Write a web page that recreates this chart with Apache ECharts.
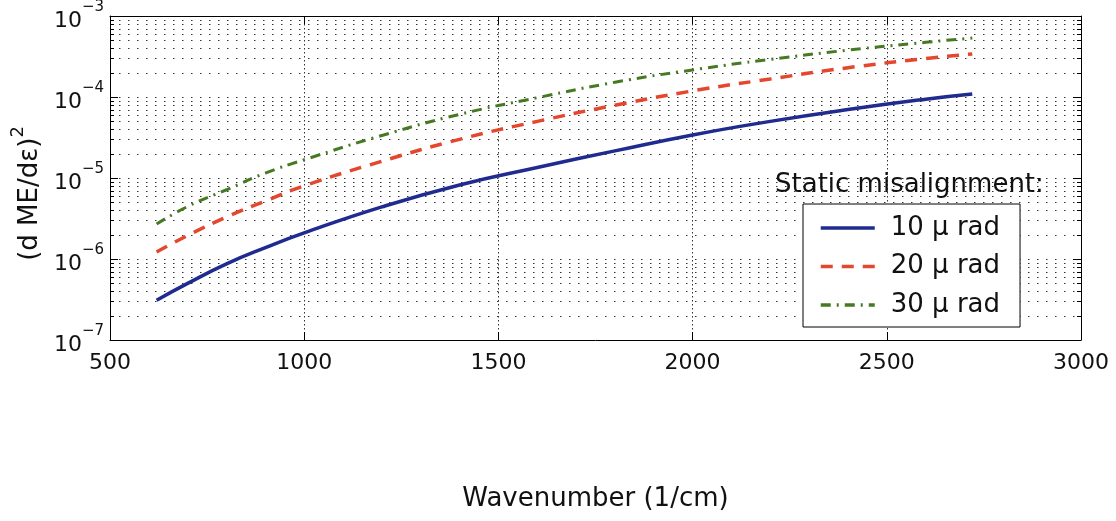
<!DOCTYPE html>
<html>
<head>
<meta charset="utf-8">
<script src="https://cdn.jsdelivr.net/npm/echarts@6/dist/echarts.min.js"></script>
<style>
html,body{margin:0;padding:0;background:#fff;}
#chart{width:1116px;height:521px;}
</style>
</head>
<body>
<div id="chart"></div>
<script>
// ---- data ----
const wavenumber = [620, 700, 800, 900, 1000, 1200, 1400, 1600, 1800, 2000, 2200, 2400, 2600, 2720];
const mis10 = [3.1e-7, 5.0e-7, 8.7e-7, 1.38e-6, 2.1e-6, 4.4e-6, 8.2e-6, 1.35e-5, 2.16e-5, 3.4e-5, 5.0e-5, 7.0e-5, 9.4e-5, 1.09e-4];
const mis20 = [1.22e-6, 1.95e-6, 3.3e-6, 5.2e-6, 8.0e-6, 1.61e-5, 3.0e-5, 5.0e-5, 7.9e-5, 1.19e-4, 1.67e-4, 2.3e-4, 2.98e-4, 3.4e-4];
const mis30 = [2.7e-6, 4.45e-6, 7.16e-6, 1.15e-5, 1.68e-5, 3.35e-5, 6.1e-5, 9.8e-5, 1.52e-4, 2.16e-4, 2.91e-4, 3.79e-4, 4.73e-4, 5.35e-4];
const seriesNames = ['10 \u03bc rad', '20 \u03bc rad', '30 \u03bc rad'];
const xTicks = [500, 1000, 1500, 2000, 2500, 3000];
const yDecades = [1e-7, 1e-6, 1e-5, 1e-4, 1e-3];
const minorMult = [2, 3, 4, 5, 6, 7, 8, 9];
const legendTitle = 'Static misalignment:';
const xTitle = 'Wavenumber (1/cm)';

const X_MIN = xTicks[0], X_MAX = xTicks[xTicks.length - 1];
const minorVals = [];
for (let d = 0; d < yDecades.length - 1; d++) {
  for (const m of minorMult) minorVals.push(+(m * yDecades[d]).toPrecision(3));
}
const FONT = 'DejaVu Sans';
const pair = (arr) => wavenumber.map((w, i) => [w, arr[i]]);
const axisBlack = { show: true, lineStyle: { color: '#000', width: 1 } };

const chart = echarts.init(document.getElementById('chart'), null, { renderer: 'canvas' });
const supRich = {
  b: { fontSize: 22, fontFamily: FONT, color: '#111', lineHeight: 32, verticalAlign: 'bottom' },
  s: { fontSize: 15, fontFamily: FONT, color: '#111', verticalAlign: 'top', lineHeight: 16 }
};

// minor log grid lines + minor ticks, positioned through the axis scales
function renderMinor(params, api) {
  const v = api.value(1);
  const a = api.coord([X_MIN, v]);
  const b = api.coord([X_MAX, v]);
  const y = Math.round(a[1]) + 0.5;
  return {
    type: 'group',
    children: [
      { type: 'line', shape: { x1: a[0], y1: y, x2: b[0], y2: y },
        style: { stroke: '#333', lineWidth: 1, lineDash: [1.5, 7.5] } },
      { type: 'line', shape: { x1: a[0], y1: y, x2: a[0] + 4, y2: y },
        style: { stroke: '#000', lineWidth: 1 } },
      { type: 'line', shape: { x1: b[0] - 4, y1: y, x2: b[0], y2: y },
        style: { stroke: '#000', lineWidth: 1 } }
    ]
  };
}

chart.setOption({
  animation: false,
  backgroundColor: '#fff',
  title: {
    text: legendTitle, left: 775, top: 169, padding: 0,
    textStyle: { fontSize: 26, fontWeight: 'normal', fontFamily: FONT, color: '#111', lineHeight: 32 }
  },
  legend: {
    data: seriesNames, orient: 'vertical', left: 803, top: 204,
    padding: [10, 20, 8, 16], itemWidth: 54, itemHeight: 14, itemGap: 10.5,
    backgroundColor: '#fff', borderColor: '#000', borderWidth: 1, borderRadius: 0,
    itemStyle: { opacity: 0, color: 'rgba(0,0,0,0)', borderWidth: 0 },
    lineStyle: { width: 3.5 },
    textStyle: { fontSize: 26, fontFamily: FONT, color: '#111', lineHeight: 28, padding: [0, 0, 0, 11] }
  },
  grid: { left: 110, top: 15, width: 971, height: 325, show: false },
  xAxis: [
    {
      type: 'value', min: X_MIN, max: X_MAX, interval: 500, position: 'bottom',
      axisLine: axisBlack,
      axisTick: { show: true, inside: true, length: 8, lineStyle: { color: '#000' } },
      axisLabel: { fontSize: 22, fontFamily: FONT, color: '#111', margin: 12, formatter: (v) => String(v) },
      splitLine: { show: true, lineStyle: { color: '#333', type: [1.5, 2.5], width: 1 } },
      name: xTitle, nameLocation: 'middle', nameGap: 146,
      nameTextStyle: { fontSize: 26, fontFamily: FONT, color: '#111' }
    },
    {
      type: 'value', min: X_MIN, max: X_MAX, interval: 500, position: 'top',
      axisLine: axisBlack,
      axisTick: { show: true, inside: true, length: 8, lineStyle: { color: '#000' } },
      axisLabel: { show: false }, splitLine: { show: false }
    }
  ],
  yAxis: [
    {
      type: 'log', logBase: 10, min: 1e-7, max: 1e-3, position: 'left',
      axisLine: axisBlack,
      axisTick: { show: true, inside: true, length: 8, lineStyle: { color: '#000' } },
      axisLabel: {
        margin: 6, fontFamily: FONT,
        formatter: (v) => '{b|10}{s|\u2212' + Math.round(-Math.log10(v)) + '}',
        rich: supRich
      },
      splitLine: { show: true, lineStyle: { color: '#333', type: [1.5, 7.5], width: 1 } },
      name: '{m|(d ME/d\u03b5)}{s|2}', nameLocation: 'middle', nameGap: 62, nameRotate: 90,
      nameTextStyle: {
        padding: [0, 31, 0, 0],
        rich: {
          m: { fontSize: 26, fontFamily: FONT, color: '#111', lineHeight: 34, verticalAlign: 'bottom' },
          s: { fontSize: 18, fontFamily: FONT, color: '#111', lineHeight: 18, verticalAlign: 'top' }
        }
      }
    },
    {
      type: 'log', logBase: 10, min: 1e-7, max: 1e-3, position: 'right',
      axisLine: axisBlack,
      axisTick: { show: true, inside: true, length: 8, lineStyle: { color: '#000' } },
      axisLabel: { show: false }, splitLine: { show: false }
    }
  ],
  series: [
    {
      name: 'minor-grid', type: 'custom', silent: true, z: 1,
      data: minorVals.map(v => [X_MIN, v]),
      encode: { x: 0, y: 1 },
      renderItem: renderMinor
    },
    {
      name: seriesNames[0], type: 'line', data: pair(mis10), smooth: true, symbol: 'none', z: 3,
      lineStyle: { color: '#1f2b8f', width: 3.5 }, itemStyle: { color: '#1f2b8f' }
    },
    {
      name: seriesNames[1], type: 'line', data: pair(mis20), smooth: true, symbol: 'none', z: 3,
      lineStyle: { color: '#e4472d', width: 3.5, type: [12, 9] }, itemStyle: { color: '#e4472d' }
    },
    {
      name: seriesNames[2], type: 'line', data: pair(mis30), smooth: true, symbol: 'none', z: 3,
      lineStyle: { color: '#467a22', width: 3, type: [10, 6, 2, 6] }, itemStyle: { color: '#467a22' }
    }
  ]
});
</script>
</body>
</html>
